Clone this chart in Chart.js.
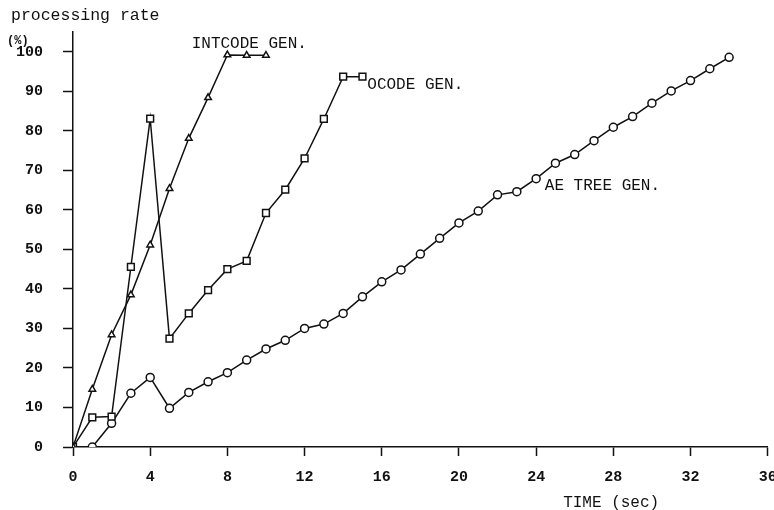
<!DOCTYPE html>
<html>
<head>
<meta charset="utf-8">
<script src="https://cdn.jsdelivr.net/npm/chart.js@4.4.1/dist/chart.umd.min.js"></script>
<style>
  html, body { margin: 0; padding: 0; background: #fff; }
  #wrap { width: 774px; height: 510px; position: relative; }
</style>
</head>
<body>
<div id="wrap"><canvas id="c" width="774" height="510"></canvas></div>
<script>
// ---- data ----
const intcodeTime = [0, 1, 2, 3, 4, 5, 6, 7, 8, 9, 10];
const intcodeRate = [0, 14.6, 28.4, 38.5, 51.1, 65.4, 78.1, 88.4, 99.2, 99.1, 99.1];

const ocodeTime = [0, 1, 2, 3, 4, 5, 6, 7, 8, 9, 10, 11, 12, 13, 14, 15];
const ocodeRate = [0, 7.5, 7.7, 45.6, 83.1, 27.4, 33.8, 39.7, 45, 47.1, 59.2, 65.1, 73, 83, 93.7, 93.7];

const aeTime = [1, 2, 3, 4, 5, 6, 7, 8, 9, 10, 11, 12, 13, 14, 15, 16, 17,
                18, 19, 20, 21, 22, 23, 24, 25, 26, 27, 28, 29, 30, 31, 32, 33, 34];
const aeRate = [0, 6, 13.6, 17.6, 9.8, 13.8, 16.5, 18.8, 22, 24.8, 27, 30, 31.1, 33.8, 38,
                41.8, 44.8, 48.8, 52.8, 56.7, 59.7, 63.8, 64.6, 67.9, 71.8, 74, 77.5, 80.9,
                83.6, 87, 90.1, 92.7, 95.7, 98.6];

const seriesNames = ['INTCODE GEN.', 'OCODE GEN.', 'AE TREE GEN.'];
const xTicks = [0, 4, 8, 12, 16, 20, 24, 28, 32, 36];
const yTicks = [0, 10, 20, 30, 40, 50, 60, 70, 80, 90, 100];
const yAxisTitle = 'processing rate';
const yUnit = '(%)';
const xAxisTitle = 'TIME (sec)';

// ---- helpers ----
const toPoints = (xs, ys) => xs.map((x, i) => ({ x: x, y: ys[i] }));
const FONT = '"Liberation Mono", "DejaVu Sans Mono", monospace';
const INK = '#111';

const commonDs = {
  borderColor: INK,
  borderWidth: 1.5,
  pointBackgroundColor: '#fff',
  pointBorderColor: INK,
  pointBorderWidth: 1.5,
  showLine: true,
  tension: 0,
  fill: false
};

const textPlugin = {
  id: 'texts',
  afterDraw(chart) {
    const ctx = chart.ctx;
    const xs = chart.scales.x, ys = chart.scales.y;
    ctx.save();
    ctx.fillStyle = INK;
    ctx.textBaseline = 'middle';
    ctx.textAlign = 'left';
    ctx.font = '16.5px ' + FONT;
    ctx.fillText(yAxisTitle, 11, 16);
    ctx.font = 'bold 12px ' + FONT;
    ctx.fillText(yUnit, 7, 41);
    ctx.font = '16px ' + FONT;
    // series labels placed in data coordinates
    ctx.fillText(seriesNames[0], xs.getPixelForValue(6.15), ys.getPixelForValue(101.9));
    ctx.fillText(seriesNames[1], xs.getPixelForValue(15.25), ys.getPixelForValue(91.7));
    ctx.fillText(seriesNames[2], xs.getPixelForValue(24.45), ys.getPixelForValue(66.1));
    ctx.fillText(xAxisTitle, xs.getPixelForValue(25.4), 503);
    ctx.restore();
  }
};

new Chart(document.getElementById('c'), {
  type: 'scatter',
  data: {
    datasets: [
      Object.assign({}, commonDs, {
        label: seriesNames[0],
        data: toPoints(intcodeTime, intcodeRate),
        pointStyle: 'triangle',
        pointRadius: 3.8
      }),
      Object.assign({}, commonDs, {
        label: seriesNames[1],
        data: toPoints(ocodeTime, ocodeRate),
        pointStyle: 'rect',
        pointRadius: 4.8
      }),
      Object.assign({}, commonDs, {
        label: seriesNames[2],
        data: toPoints(aeTime, aeRate),
        pointStyle: 'circle',
        pointRadius: 4
      })
    ]
  },
  options: {
    responsive: false,
    animation: false,
    layout: { padding: { top: 32, left: 0, right: 4, bottom: 0 } },
    plugins: {
      legend: { display: false },
      tooltip: { enabled: false }
    },
    scales: {
      x: {
        type: 'linear',
        min: 0,
        max: 36,
        afterBuildTicks: (s) => { s.ticks = xTicks.map(v => ({ value: v })); },
        afterFit: (s) => { s.height = 63; s.paddingLeft = 0; s.paddingRight = 0; },
        ticks: {
          color: INK,
          padding: 12,
          maxRotation: 0,
          autoSkip: false,
          font: { family: FONT, size: 15, weight: 'bold' }
        },
        grid: {
          drawOnChartArea: false,
          drawTicks: true,
          tickLength: 9,
          tickWidth: 1.5,
          tickColor: INK
        },
        border: { display: true, color: INK, width: 1.5 }
      },
      y: {
        type: 'linear',
        min: 0,
        max: 105,
        afterBuildTicks: (s) => { s.ticks = yTicks.map(v => ({ value: v })); },
        afterFit: (s) => { s.width = 73; },
        ticks: {
          color: INK,
          padding: 20,
          autoSkip: false,
          font: { family: FONT, size: 15, weight: 'bold' }
        },
        grid: {
          drawOnChartArea: false,
          drawTicks: true,
          tickLength: 10,
          tickWidth: 1.5,
          tickColor: INK
        },
        border: { display: true, color: INK, width: 1.5 }
      }
    }
  },
  plugins: [textPlugin]
});
</script>
</body>
</html>
